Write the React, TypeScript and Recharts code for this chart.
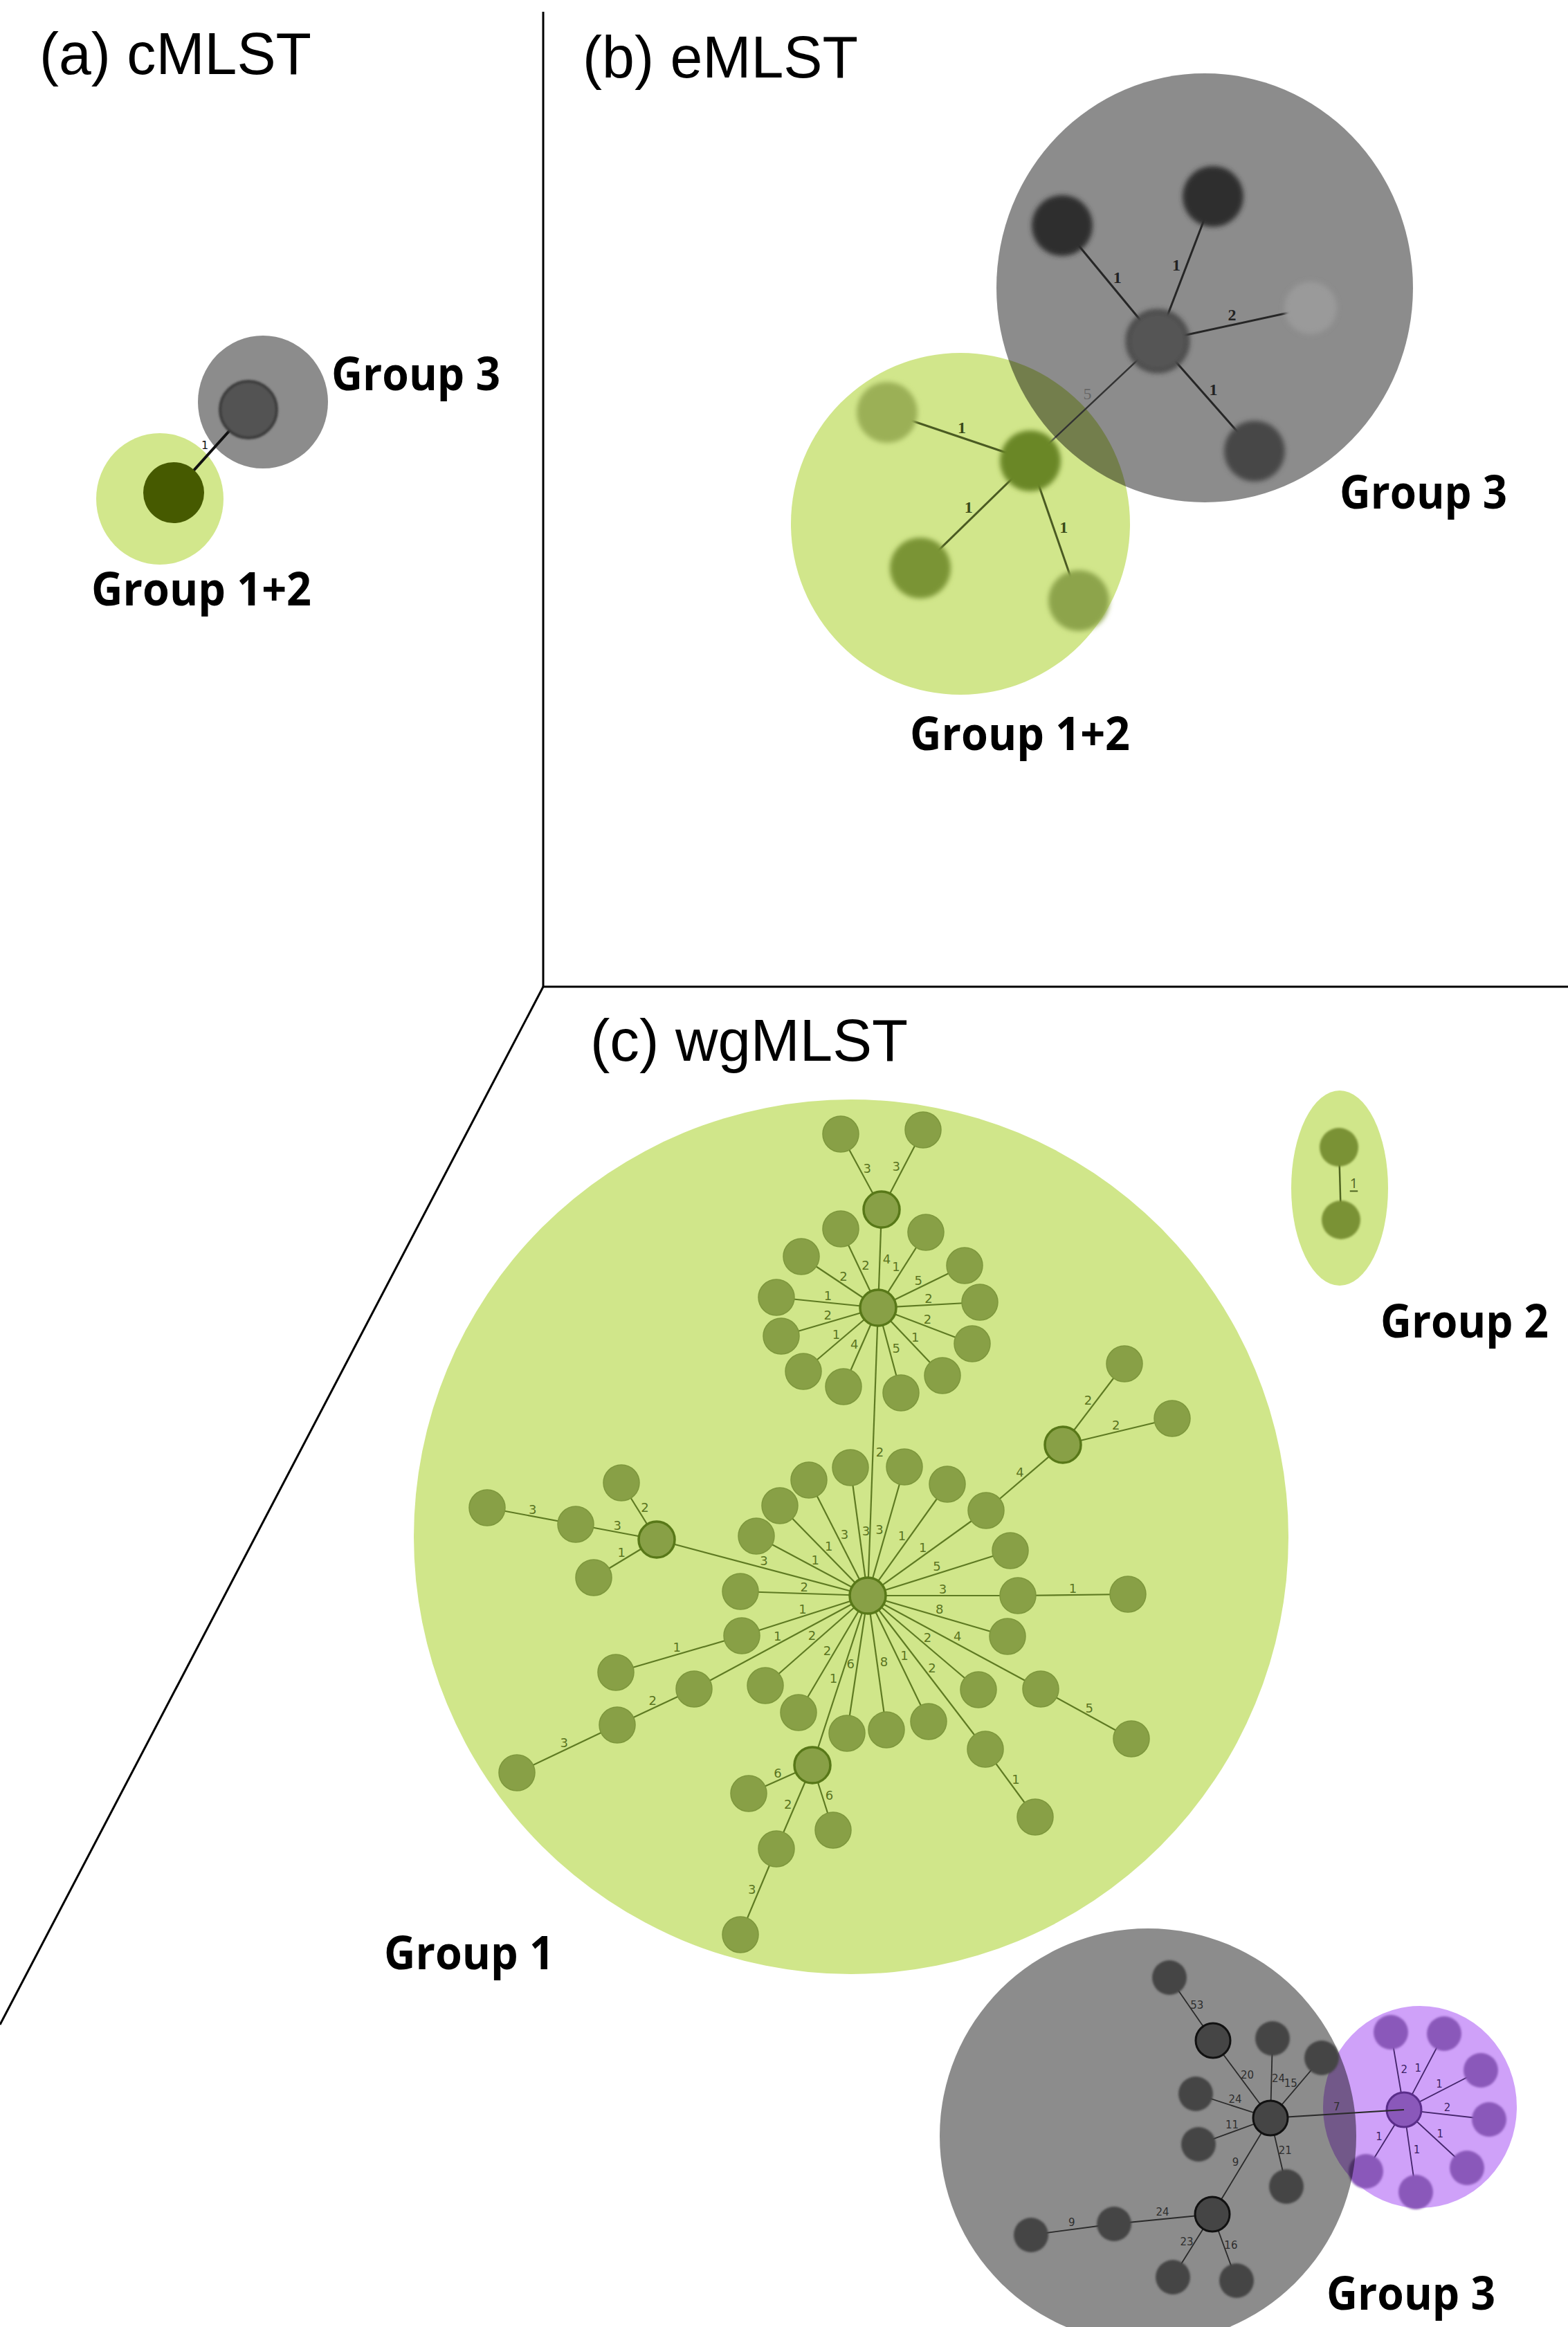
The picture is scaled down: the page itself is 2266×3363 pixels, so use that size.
import { ScatterChart, Scatter, XAxis, YAxis, ReferenceLine } from "recharts";

const W = 2266;
const H = 3363;

type Node = { id: string; x: number; y: number; hub?: boolean; tone?: string };
type Edge = [string, string, string];
type Halo = { x: number; y: number; rx: number; ry: number };

// (a) cMLST
const aNodes: Node[] = [
  { id: "s3", x: 359, y: 592, tone: "gray" },
  { id: "s12", x: 251, y: 712, tone: "green" },
];
const aEdges: Edge[] = [["s3", "s12", "1"]];
const aGreenHalo: Halo[] = [{ x: 231, y: 721, rx: 92, ry: 95 }];
const aGrayHalo: Halo[] = [{ x: 380, y: 581, rx: 94, ry: 96 }];

// (b) eMLST
const bGreenNodes: Node[] = [
  { id: "e0", x: 1489, y: 666, tone: "deep" },
  { id: "e1", x: 1282, y: 596, tone: "pale" },
  { id: "e2", x: 1330, y: 821, tone: "mid" },
  { id: "e3", x: 1559, y: 868, tone: "soft" },
];
const bGrayNodes: Node[] = [
  { id: "g0", x: 1673, y: 493, tone: "mid" },
  { id: "g1", x: 1535, y: 326, tone: "dark" },
  { id: "g2", x: 1753, y: 284, tone: "dark" },
  { id: "g3", x: 1894, y: 445, tone: "faint" },
  { id: "g4", x: 1813, y: 652, tone: "dark2" },
];
const bGreenEdges: Edge[] = [
  ["e0", "e1", "1"],
  ["e0", "e2", "1"],
  ["e0", "e3", "1"],
];
const bBridge: Edge[] = [["g0", "e0", "5"]];
const bGrayEdges: Edge[] = [
  ["g0", "g1", "1"],
  ["g0", "g2", "1"],
  ["g0", "g3", "2"],
  ["g0", "g4", "1"],
];
const bGreenHalo: Halo[] = [{ x: 1388, y: 757, rx: 245, ry: 247 }];
const bGrayHalo: Halo[] = [{ x: 1741, y: 416, rx: 301, ry: 310 }];

// (c) wgMLST - group 1
const g1Nodes: Node[] = [
  { id: "A", x: 1274, y: 1748, hub: true },
  { id: "B", x: 1269, y: 1890, hub: true },
  { id: "C", x: 1254, y: 2306, hub: true },
  { id: "D", x: 1536, y: 2088, hub: true },
  { id: "E", x: 1174, y: 2551, hub: true },
  { id: "F", x: 949, y: 2225, hub: true },
  { id: "a1", x: 1215, y: 1639 },
  { id: "a2", x: 1334, y: 1633 },
  { id: "b1", x: 1215, y: 1776 },
  { id: "b2", x: 1158, y: 1816 },
  { id: "b3", x: 1122, y: 1875 },
  { id: "b4", x: 1129, y: 1931 },
  { id: "b5", x: 1161, y: 1982 },
  { id: "b6", x: 1219, y: 2004 },
  { id: "b7", x: 1302, y: 2013 },
  { id: "b8", x: 1362, y: 1988 },
  { id: "b9", x: 1405, y: 1942 },
  { id: "b10", x: 1416, y: 1882 },
  { id: "b11", x: 1394, y: 1829 },
  { id: "b12", x: 1338, y: 1781 },
  { id: "c1", x: 1169, y: 2139 },
  { id: "c2", x: 1229, y: 2121 },
  { id: "c3", x: 1307, y: 2120 },
  { id: "c4", x: 1369, y: 2145 },
  { id: "c5", x: 1425, y: 2183 },
  { id: "c6", x: 1460, y: 2241 },
  { id: "c7", x: 1471, y: 2306 },
  { id: "c8", x: 1630, y: 2304 },
  { id: "c9", x: 1456, y: 2365 },
  { id: "c10", x: 1504, y: 2441 },
  { id: "c11", x: 1635, y: 2513 },
  { id: "c12", x: 1414, y: 2442 },
  { id: "c13", x: 1424, y: 2528 },
  { id: "c14", x: 1496, y: 2626 },
  { id: "c15", x: 1342, y: 2488 },
  { id: "c16", x: 1281, y: 2500 },
  { id: "c17", x: 1224, y: 2505 },
  { id: "c18", x: 1154, y: 2475 },
  { id: "c19", x: 1106, y: 2436 },
  { id: "c20", x: 1003, y: 2441 },
  { id: "c21", x: 892, y: 2493 },
  { id: "c22", x: 747, y: 2562 },
  { id: "c23", x: 1072, y: 2364 },
  { id: "c24", x: 890, y: 2417 },
  { id: "c25", x: 1070, y: 2300 },
  { id: "c26", x: 1093, y: 2220 },
  { id: "c27", x: 1127, y: 2176 },
  { id: "d1", x: 1625, y: 1971 },
  { id: "d2", x: 1694, y: 2050 },
  { id: "h1", x: 1082, y: 2592 },
  { id: "h2", x: 1204, y: 2645 },
  { id: "h3", x: 1122, y: 2672 },
  { id: "h4", x: 1070, y: 2796 },
  { id: "f1", x: 898, y: 2143 },
  { id: "f2", x: 832, y: 2203 },
  { id: "f3", x: 704, y: 2179 },
  { id: "f4", x: 858, y: 2280 },
];
const g1Edges: Edge[] = [
  ["A", "a1", "3"], ["A", "a2", "3"], ["A", "B", "4"],
  ["B", "b1", "2"], ["B", "b2", "2"], ["B", "b3", "1"], ["B", "b4", "2"],
  ["B", "b5", "1"], ["B", "b6", "4"], ["B", "b7", "5"], ["B", "b8", "1"],
  ["B", "b9", "2"], ["B", "b10", "2"], ["B", "b11", "5"], ["B", "b12", "1"],
  ["B", "C", "2"],
  ["C", "c1", "3"], ["C", "c2", "3"], ["C", "c3", "3"], ["C", "c4", "1"],
  ["C", "c5", "1"], ["c5", "D", "4"], ["D", "d1", "2"], ["D", "d2", "2"],
  ["C", "c6", "5"], ["C", "c7", "3"], ["c7", "c8", "1"], ["C", "c9", "8"],
  ["C", "c10", "4"], ["c10", "c11", "5"], ["C", "c12", "2"], ["C", "c13", "2"],
  ["c13", "c14", "1"], ["C", "c15", "1"], ["C", "c16", "8"], ["C", "c17", "6"],
  ["C", "E", "1"], ["E", "h1", "6"], ["E", "h2", "6"], ["E", "h3", "2"], ["h3", "h4", "3"],
  ["C", "c18", "2"], ["C", "c19", "2"], ["C", "c20", "1"], ["c20", "c21", "2"],
  ["c21", "c22", "3"], ["C", "c23", "1"], ["c23", "c24", "1"], ["C", "c25", "2"],
  ["C", "F", "3"], ["F", "f1", "2"], ["F", "f2", "3"], ["f2", "f3", "3"], ["F", "f4", "1"],
  ["C", "c26", "1"], ["C", "c27", "1"],
];
const g1Halo: Halo[] = [{ x: 1230, y: 2221, rx: 632, ry: 632 }];

// group 2
const g2Nodes: Node[] = [
  { id: "u", x: 1935, y: 1658 },
  { id: "v", x: 1938, y: 1763 },
];
const g2Edges: Edge[] = [["u", "v", "1"]];
const g2Halo: Halo[] = [{ x: 1936, y: 1717, rx: 70, ry: 141 }];

// group 3
const g3GrayNodes: Node[] = [
  { id: "G", x: 1836, y: 3061, hub: true },
  { id: "H2", x: 1753, y: 2949, hub: true },
  { id: "H3", x: 1752, y: 3200, hub: true },
  { id: "k1", x: 1690, y: 2858 },
  { id: "k2", x: 1839, y: 2946 },
  { id: "k3", x: 1910, y: 2974 },
  { id: "k4", x: 1728, y: 3026 },
  { id: "k5", x: 1732, y: 3099 },
  { id: "k6", x: 1859, y: 3160 },
  { id: "k7", x: 1610, y: 3214 },
  { id: "k8", x: 1490, y: 3230 },
  { id: "k9", x: 1695, y: 3291 },
  { id: "k10", x: 1787, y: 3296 },
];
const g3GrayEdges: Edge[] = [
  ["H2", "k1", "53"], ["G", "H2", "20"], ["G", "k2", "24"], ["G", "k3", "15"],
  ["G", "k4", "24"], ["G", "k5", "11"], ["G", "k6", "21"], ["G", "H3", "9"],
  ["H3", "k7", "24"], ["k7", "k8", "9"], ["H3", "k9", "23"], ["H3", "k10", "16"],
];
const g3PurpleNodes: Node[] = [
  { id: "P", x: 2029, y: 3049, hub: true },
  { id: "p1", x: 2010, y: 2937 },
  { id: "p2", x: 2087, y: 2939 },
  { id: "p3", x: 2140, y: 2992 },
  { id: "p4", x: 2152, y: 3063 },
  { id: "p5", x: 2120, y: 3133 },
  { id: "p6", x: 2046, y: 3168 },
  { id: "p7", x: 1974, y: 3138 },
];
const g3PurpleEdges: Edge[] = [
  ["P", "p1", "2"], ["P", "p2", "1"], ["P", "p3", "1"], ["P", "p4", "2"],
  ["P", "p5", "1"], ["P", "p6", "1"], ["P", "p7", "1"],
];
const g3Bridge: Edge[] = [["G", "P", "7"]];
const g3GrayHalo: Halo[] = [{ x: 1659, y: 3087, rx: 301, ry: 300 }];
const g3PurpleHalo: Halo[] = [{ x: 2052, y: 3045, rx: 140, ry: 146 }];

const bGreenTone: Record<string, string> = { deep: "#6b8726", pale: "#9bb057", mid: "#7a9436", soft: "#8da44b" };
const bGrayTone: Record<string, string> = { mid: "#545454", dark: "#2f2f2f", faint: "#9a9a9a", dark2: "#474747" };

function lookup(nodes: Node[]) {
  return new Map(nodes.map((n) => [n.id, n]));
}

function edgeLines(key: string, nodes: Node[], edges: Edge[], stroke: string, width: number) {
  const m = lookup(nodes);
  return edges.map(([a, b], i) => (
    <Scatter
      key={`${key}-${i}`}
      data={[m.get(a), m.get(b)]}
      line={{ stroke, strokeWidth: width }}
      shape={() => <g />}
      isAnimationActive={false}
    />
  ));
}

function edgeLabelPoints(nodes: Node[], edges: Edge[], off: number) {
  const m = lookup(nodes);
  return edges.map(([a, b, t]) => {
    const p = m.get(a)!;
    const q = m.get(b)!;
    const dx = q.x - p.x;
    const dy = q.y - p.y;
    const len = Math.hypot(dx, dy);
    let nx = -dy / len;
    let ny = dx / len;
    if (ny > 0.05 || (Math.abs(ny) <= 0.05 && nx < 0)) {
      nx = -nx;
      ny = -ny;
    }
    return { x: (p.x + q.x) / 2 + nx * off, y: (p.y + q.y) / 2 + ny * off, text: t };
  });
}

function edgeLabels(key: string, nodes: Node[], edges: Edge[], off: number, style: any) {
  return (
    <Scatter
      key={key}
      data={edgeLabelPoints(nodes, edges, off)}
      isAnimationActive={false}
      shape={(p: any) => (
        <text x={p.cx} y={p.cy} textAnchor="middle" dominantBaseline="central" {...style}>
          {p.payload.text}
        </text>
      )}
    />
  );
}

function halos(key: string, data: Halo[], fill: string, opacity = 1) {
  return (
    <Scatter
      key={key}
      data={data}
      isAnimationActive={false}
      shape={(p: any) => (
        <ellipse cx={p.cx} cy={p.cy} rx={p.payload.rx} ry={p.payload.ry} fill={fill} fillOpacity={opacity} />
      )}
    />
  );
}

function nodes(key: string, data: Node[], render: (p: any) => any) {
  return <Scatter key={key} data={data} isAnimationActive={false} shape={render} />;
}

function caption(key: string, x: number, y: number, text: string, style: any) {
  return (
    <Scatter
      key={key}
      data={[{ x, y }]}
      isAnimationActive={false}
      shape={(p: any) => (
        <text x={p.cx} y={p.cy} lengthAdjust="spacingAndGlyphs" {...style}>
          {text}
        </text>
      )}
    />
  );
}

const titleStyle = { fontFamily: "Liberation Sans, Arial, sans-serif", fontSize: 85, fill: "#000" };
const groupStyle = { fontFamily: "Open Sans, sans-serif", fontWeight: 700, fontSize: 66, fill: "#000" };
const c1LabelStyle = { fontFamily: "DejaVu Sans, sans-serif", fontSize: 18, fill: "#5a7420" };

export default function App() {
  const bAll = [...bGreenNodes, ...bGrayNodes];
  const g3All = [...g3GrayNodes, ...g3PurpleNodes];
  return (
    <div style={{ position: "absolute", left: 0, top: 0, width: W, height: H, background: "#fff" }}>
      <ScatterChart width={W} height={H} margin={{ top: 0, right: 0, bottom: 0, left: 0 }}>
        <XAxis type="number" dataKey="x" domain={[0, W]} hide />
        <YAxis type="number" dataKey="y" domain={[0, H]} reversed hide />
        <ReferenceLine segment={[{ x: 785, y: 17 }, { x: 785, y: 1426 }]} stroke="#000" strokeWidth={3} />
        <ReferenceLine segment={[{ x: 785, y: 1426 }, { x: W, y: 1426 }]} stroke="#000" strokeWidth={3} />
        <ReferenceLine segment={[{ x: 785, y: 1426 }, { x: 0, y: 2926 }]} stroke="#000" strokeWidth={3} />

        <Scatter
          data={[{ x: 0, y: 0 }]}
          isAnimationActive={false}
          shape={() => (
            <defs>
              <filter id="soft" x="-50%" y="-50%" width="200%" height="200%">
                <feGaussianBlur stdDeviation="3.5" />
              </filter>
              <filter id="soft2" x="-50%" y="-50%" width="200%" height="200%">
                <feGaussianBlur stdDeviation="1.5" />
              </filter>
            </defs>
          )}
        />

        {/* (a) cMLST */}
        {caption("ta", 57, 107, "(a) cMLST", { ...titleStyle, textLength: 393 })}
        {halos("aG", aGreenHalo, "#d2e78c")}
        {halos("aK", aGrayHalo, "#8c8c8c")}
        {edgeLines("aE", aNodes, aEdges, "#111", 4)}
        {nodes("aN", aNodes, (p: any) =>
          p.payload.tone === "gray" ? (
            <circle cx={p.cx} cy={p.cy} r={41} fill="#525252" stroke="#3a3a3a" strokeWidth={4} filter="url(#soft2)" />
          ) : (
            <circle cx={p.cx} cy={p.cy} r={44} fill="#465a00" />
          )
        )}
        {edgeLabels("aL", aNodes, aEdges, 12, { fontFamily: "DejaVu Sans", fontSize: 16, fill: "#111" })}
        {caption("a3", 479, 564, "Group 3", { ...groupStyle, textLength: 244 })}
        {caption("a12", 132, 875, "Group 1+2", { ...groupStyle, textLength: 318 })}

        {/* (b) eMLST */}
        {caption("tb", 842, 112, "(b) eMLST", { ...titleStyle, textLength: 398 })}
        {halos("bG", bGreenHalo, "#d1e68b")}
        {edgeLines("bGE", bAll, bGreenEdges, "#4a5a22", 3)}
        {edgeLines("bBr", bAll, bBridge, "#5c5c5c", 2.5)}
        {nodes("bGN", bGreenNodes, (p: any) => (
          <circle cx={p.cx} cy={p.cy} r={44} fill={bGreenTone[p.payload.tone]} filter="url(#soft)" />
        ))}
        {edgeLabels("bGL", bAll, bGreenEdges, 14, { fontFamily: "Liberation Serif", fontWeight: 700, fontSize: 24, fill: "#3a4a18" })}
        {halos("bK", bGrayHalo, "#000", 0.45)}
        {edgeLines("bKE", bAll, bGrayEdges, "#262626", 3)}
        {nodes("bKN", bGrayNodes, (p: any) => (
          <circle
            cx={p.cx}
            cy={p.cy}
            r={p.payload.tone === "faint" ? 38 : 44}
            fill={bGrayTone[p.payload.tone]}
            stroke={p.payload.tone === "mid" ? "#3a3a3a" : "none"}
            strokeWidth={4}
            filter="url(#soft)"
          />
        ))}
        {edgeLabels("bKL", bAll, bGrayEdges, 14, { fontFamily: "Liberation Serif", fontWeight: 700, fontSize: 24, fill: "#222" })}
        {edgeLabels("bBL", bAll, bBridge, 14, { fontFamily: "Liberation Serif", fontSize: 24, fill: "#666" })}
        {caption("b3", 1936, 735, "Group 3", { ...groupStyle, textLength: 242 })}
        {caption("b12", 1315, 1084, "Group 1+2", { ...groupStyle, textLength: 318 })}

        {/* (c) wgMLST */}
        {caption("tc", 853, 1533, "(c) wgMLST", { ...titleStyle, textLength: 459 })}
        {halos("c1H", g1Halo, "#d0e68a")}
        {edgeLines("c1E", g1Nodes, g1Edges, "#5e7a22", 2.2)}
        {nodes("c1N", g1Nodes, (p: any) => (
          <circle
            cx={p.cx}
            cy={p.cy}
            r={26}
            fill="#88a046"
            stroke={p.payload.hub ? "#587818" : "#7d973c"}
            strokeWidth={p.payload.hub ? 3.5 : 1.5}
          />
        ))}
        {edgeLabels("c1L", g1Nodes, g1Edges, 10, c1LabelStyle)}
        {caption("c1T", 555, 2846, "Group 1", { ...groupStyle, textLength: 246 })}

        {halos("c2H", g2Halo, "#d0e68a")}
        {edgeLines("c2E", g2Nodes, g2Edges, "#4f6420", 2.5)}
        {nodes("c2N", g2Nodes, (p: any) => (
          <circle cx={p.cx} cy={p.cy} r={28} fill="#7a9236" filter="url(#soft2)" />
        ))}
        {edgeLabels("c2L", g2Nodes, g2Edges, 20, {
          fontFamily: "Open Sans, sans-serif",
          fontSize: 20,
          fill: "#4f6420",
          textDecoration: "underline",
        })}
        {caption("c2T", 1995, 1933, "Group 2", { ...groupStyle, textLength: 243 })}

        {halos("c3P", g3PurpleHalo, "#cfa1f9")}
        {edgeLines("c3PE", g3All, g3PurpleEdges, "#43246a", 1.8)}
        {nodes("c3PN", g3PurpleNodes, (p: any) => (
          <circle
            cx={p.cx}
            cy={p.cy}
            r={25}
            fill="#8a58ba"
            stroke={p.payload.hub ? "#5a2d8a" : "none"}
            strokeWidth={3}
            filter={p.payload.hub ? undefined : "url(#soft2)"}
          />
        ))}
        {edgeLabels("c3PL", g3All, g3PurpleEdges, 10, { fontFamily: "DejaVu Sans", fontSize: 15, fill: "#3b1f63" })}
        {halos("c3K", g3GrayHalo, "#000", 0.45)}
        {edgeLines("c3KE", g3All, g3GrayEdges, "#2a2a2a", 1.8)}
        {edgeLines("c3Br", g3All, g3Bridge, "#2a2a2a", 2.2)}
        {nodes("c3KN", g3GrayNodes, (p: any) => (
          <circle
            cx={p.cx}
            cy={p.cy}
            r={25}
            fill="#454545"
            stroke={p.payload.hub ? "#111" : "none"}
            strokeWidth={3}
            filter={p.payload.hub ? undefined : "url(#soft2)"}
          />
        ))}
        {edgeLabels("c3KL", g3All, [...g3GrayEdges, ...g3Bridge], 10, {
          fontFamily: "DejaVu Sans",
          fontSize: 15,
          fill: "#2e2e2e",
        })}
        {caption("c3T", 1917, 3338, "Group 3", { ...groupStyle, textLength: 244 })}
      </ScatterChart>
    </div>
  );
}
